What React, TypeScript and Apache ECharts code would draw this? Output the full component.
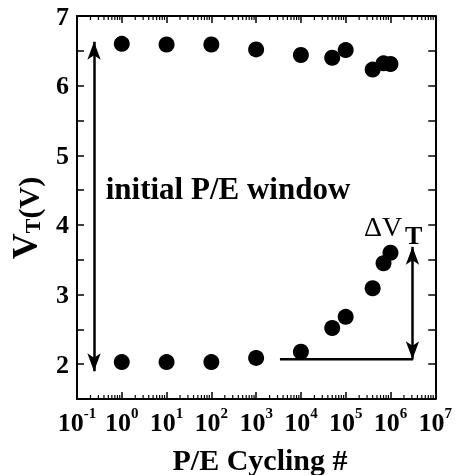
import React, { useEffect, useRef } from 'react';
import * as echarts from 'echarts';

const FONT = "'Liberation Serif', 'Times New Roman', Times, serif";

// P/E cycles (x) and threshold voltages (y)
const cycles = [1, 10, 100, 1000, 1e4, 5e4, 1e5, 4e5, 7e5, 1e6];
const programmedVt = [6.6, 6.59, 6.59, 6.52, 6.44, 6.4, 6.51, 6.23, 6.32, 6.31];
const erasedVt = [2.03, 2.03, 2.03, 2.09, 2.18, 2.52, 2.68, 3.09, 3.45, 3.6];

// axis ranges / ticks
const xMin = 0.1;
const xMax = 1e7;
const yMin = 1.5;
const yMax = 7;
const yInterval = 0.5;
const minorMultipliers = [2, 3, 4, 5, 6, 7, 8, 9];
const decadeExponents = [-1, 0, 1, 2, 3, 4, 5, 6];

// annotations (data coordinates)
const windowArrowX = 0.24;
const windowArrowY = [6.63, 1.9];
const deltaArrowX = 3.1e6;
const deltaArrowY = [3.685, 2.07];
const baselineX = [3.4e3, 3.2e6];
const baselineY = 2.07;

const minorTicks: number[][] = [];
decadeExponents.forEach((e) =>
  minorMultipliers.forEach((m) => minorTicks.push([m * Math.pow(10, e), yMin]))
);

export default function App() {
  const ref = useRef<HTMLDivElement>(null);
  useEffect(() => {
    const chart = echarts.init(ref.current!, null, { renderer: 'svg' });
    const axisLine = { show: true, lineStyle: { color: '#000', width: 2 } };
    const xCommon = {
      type: 'log',
      logBase: 10,
      min: xMin,
      max: xMax,
      axisLine,
      axisTick: { show: true, inside: true, length: 7, lineStyle: { color: '#000', width: 1.5 } },
      splitLine: { show: false },
      minorTick: { show: false },
    };
    const yCommon = {
      type: 'value',
      min: yMin,
      max: yMax,
      interval: yInterval,
      axisLine,
      axisTick: { show: true, inside: true, length: 7, lineStyle: { color: '#000', width: 1.5 } },
      splitLine: { show: false },
    };
    chart.setOption({
      animation: false,
      grid: { left: 77, right: 16, top: 16, bottom: 76 },
      xAxis: [
        {
          ...xCommon,
          position: 'bottom',
          axisLabel: {
            margin: 6,
            formatter: (v: number) => {
              const e = Math.round(Math.log10(v));
              return `{b|10}{s|${e}}`;
            },
            rich: {
              b: { fontFamily: FONT, fontWeight: 'bold', fontSize: 26, color: '#000', lineHeight: 30, verticalAlign: 'bottom' },
              s: { fontFamily: FONT, fontWeight: 'bold', fontSize: 15, color: '#000', lineHeight: 30, verticalAlign: 'top' },
            },
          },
        },
        { ...xCommon, position: 'top', axisLabel: { show: false } },
      ],
      yAxis: [
        {
          ...yCommon,
          position: 'left',
          axisLabel: {
            margin: 8,
            fontFamily: FONT,
            fontWeight: 'bold',
            fontSize: 26,
            color: '#000',
            formatter: (v: number) => (Math.abs(v - Math.round(v)) < 1e-6 ? String(Math.round(v)) : ''),
          },
        },
        { ...yCommon, position: 'right', axisLabel: { show: false } },
      ],
      series: [
        {
          type: 'scatter',
          data: cycles.map((c, i) => [c, programmedVt[i]]),
          symbol: 'circle',
          symbolSize: 16,
          itemStyle: { color: '#000', opacity: 1 },
          silent: true,
        },
        {
          type: 'scatter',
          data: cycles.map((c, i) => [c, erasedVt[i]]),
          symbol: 'circle',
          symbolSize: 16,
          itemStyle: { color: '#000', opacity: 1 },
          silent: true,
          markLine: {
            silent: true,
            animation: false,
            label: { show: false },
            emphasis: { disabled: true },
            lineStyle: { color: '#000', width: 2.5, type: 'solid', opacity: 1 },
            symbol: ['arrow', 'arrow'],
            symbolSize: [10, 18],
            data: [
              [{ coord: [windowArrowX, windowArrowY[0]] }, { coord: [windowArrowX, windowArrowY[1]] }],
              [{ coord: [deltaArrowX, deltaArrowY[0]] }, { coord: [deltaArrowX, deltaArrowY[1]] }],
            ],
          },
        },
        {
          type: 'line',
          data: baselineX.map((x) => [x, baselineY]),
          showSymbol: false,
          symbol: 'none',
          lineStyle: { color: '#000', width: 2.5 },
          silent: true,
        },
        {
          type: 'custom',
          data: minorTicks,
          silent: true,
          renderItem: (params: any, api: any) => {
            const p = api.coord([api.value(0), yMin]);
            const cs = params.coordSys;
            return {
              type: 'group',
              children: [
                { type: 'line', shape: { x1: p[0], y1: cs.y + cs.height, x2: p[0], y2: cs.y + cs.height - 4 }, style: { stroke: '#000', lineWidth: 1.2 } },
                { type: 'line', shape: { x1: p[0], y1: cs.y, x2: p[0], y2: cs.y + 4 }, style: { stroke: '#000', lineWidth: 1.2 } },
              ],
            };
          },
        },
      ],
      graphic: [
        {
          type: 'text',
          x: 25,
          y: 218,
          rotation: Math.PI / 2,
          style: {
            text: '{v|V}{t|T}{p|(V)}',
            align: 'center',
            verticalAlign: 'middle',
            rich: {
              v: { fontFamily: FONT, fontWeight: 'bold', fontSize: 36, fill: '#000', lineHeight: 36, verticalAlign: 'bottom' },
              t: { fontFamily: FONT, fontWeight: 'bold', fontSize: 22, fill: '#000', lineHeight: 22, verticalAlign: 'bottom' },
              p: { fontFamily: FONT, fontWeight: 'bold', fontSize: 30, fill: '#000', lineHeight: 36, verticalAlign: 'bottom' },
            },
          },
        },
        {
          type: 'text',
          x: 260,
          y: 459,
          style: { text: 'P/E Cycling #', fontFamily: FONT, fontWeight: 'bold', fontSize: 30, fill: '#000', align: 'center', verticalAlign: 'middle' },
        },
        {
          type: 'text',
          x: 228,
          y: 188,
          style: { text: 'initial P/E window', fontFamily: FONT, fontWeight: 'bold', fontSize: 31, fill: '#000', align: 'center', verticalAlign: 'middle' },
        },
        {
          type: 'text',
          x: 364,
          y: 226,
          style: { text: 'ΔV', fontFamily: FONT, fontWeight: 'normal', fontSize: 28, fill: '#000', align: 'left', verticalAlign: 'middle' },
        },
        {
          type: 'text',
          x: 405,
          y: 235,
          style: { text: 'T', fontFamily: FONT, fontWeight: 'bold', fontSize: 26, fill: '#000', align: 'left', verticalAlign: 'middle' },
        },
      ],
    });
    return () => chart.dispose();
  }, []);
  return <div ref={ref} style={{ position: 'fixed', left: 0, top: 0, width: 455, height: 475 }} />;
}
